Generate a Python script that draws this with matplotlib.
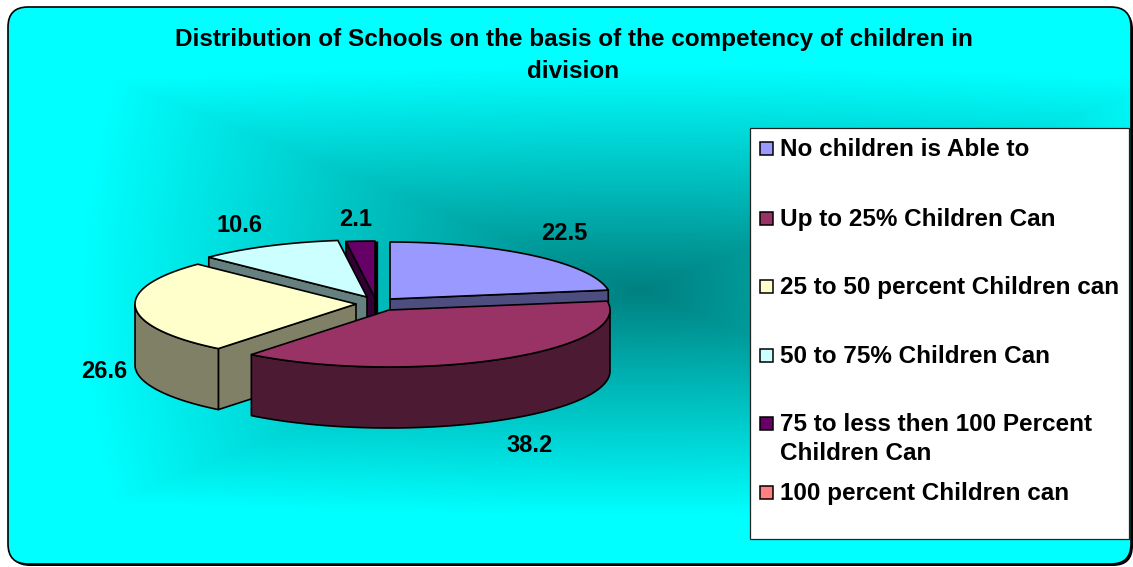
import numpy as np
import matplotlib
matplotlib.use("Agg")
import matplotlib.pyplot as plt
from matplotlib.patches import FancyBboxPatch, Polygon, Rectangle

plt.rcParams['font.family'] = ['Liberation Sans', 'DejaVu Sans']

title = "Distribution of Schools on the basis of the competency of children in\ndivision"
categories = ["No children is Able to", "Up to 25% Children Can", "25 to 50 percent Children can",
              "50 to 75% Children Can", "75 to less then 100 Percent\nChildren Can", "100 percent Children can"]
values = [22.5, 38.2, 26.6, 10.6, 2.1, 0.0]
value_labels = ["22.5", "38.2", "26.6", "10.6", "2.1", ""]

top_colors = ["#9999FF", "#993366", "#FFFFCC", "#CCFFFF", "#660066", "#FF8080"]
side_colors = ["#4D4D80", "#4D1A33", "#808066", "#668080", "#330033", "#804040"]

# layout (pixels)
apex = [(390, 299), (389, 310), (356, 304), (367, 297), (375, 298), (375, 298)]
label_pos = [(564, 234), (530, 446), (104, 371), (240, 226), (356, 219)]
legend_y = [148, 218, 286, 355, 423, 492]
RX, RY, DEPTH = 221.0, 57.0, 61.0
LW = 1.2
BOX = (8, 7, 1123, 557)
STYLE = "round,pad=0,rounding_size=20"

fig = plt.figure(figsize=(11.33, 5.67), dpi=100)
ax = fig.add_axes([0, 0, 1, 1])

# frame + background
ax.add_patch(FancyBboxPatch((BOX[0] + 2, BOX[1] + 2), BOX[2], BOX[3], boxstyle=STYLE, fc="black", ec="black",
                            lw=0, zorder=0))
xx, yy = np.meshgrid(np.arange(0, 1133), np.arange(0, 567))
dx = np.abs(xx - 640) / 560.0
dy = np.abs(yy - 290) / 225.0
d = np.clip(0.85 * np.maximum(dx, dy) + 0.15 * np.hypot(dx, dy), 0, 1)
g = 128 + (255 - 128) * d
img = np.dstack([np.zeros_like(g), g, g]).astype(np.uint8)
im = ax.imshow(img, extent=(0, 1133, 567, 0), zorder=1.5, aspect="auto", interpolation="bilinear")
im.set_clip_path(FancyBboxPatch(BOX[:2], BOX[2], BOX[3], boxstyle=STYLE, transform=ax.transData))
ax.add_patch(FancyBboxPatch(BOX[:2], BOX[2], BOX[3], boxstyle=STYLE, fc="none", ec="black", lw=1.2, zorder=1.6))
ax.set_xlim(0, 1133)
ax.set_ylim(567, 0)
ax.axis("off")

ax.text(573.5, 55.5, title, ha="center", va="center", fontsize=17.5, fontweight="bold",
        color="black", linespacing=1.55, zorder=5)


def rim(cx, cy, a0, a1):
    t = np.radians(np.linspace(a0, a1, max(int(abs(a1 - a0)) + 2, 3)))
    return np.column_stack([cx + RX * np.sin(t), cy - RY * np.cos(t)])


def face(pts, color, z):
    ax.add_patch(Polygon(pts, closed=True, fc=color, ec="black", lw=LW, joinstyle="round", zorder=z))


edges = np.concatenate([[0], np.cumsum(values)]) * 3.6
down = np.array([0, DEPTH])
z = 2.0
for i in [0, 4, 3, 2, 1]:
    a0, a1 = edges[i], edges[i + 1]
    cx, cy = apex[i]
    arc = rim(cx, cy, a0, a1)
    # flat cut faces, only those turned toward the viewer
    if np.sin(np.radians(a0)) < -1e-6:
        z += 0.01
        face([(cx, cy), arc[0], arc[0] + down, (cx, cy + DEPTH)], side_colors[i], z)
    if np.sin(np.radians(a1)) > 1e-6:
        z += 0.01
        face([(cx, cy), arc[-1], arc[-1] + down, (cx, cy + DEPTH)], side_colors[i], z)
    # outer wall: only the part of the rim that faces the viewer
    w0, w1 = max(a0, 90), min(a1, 270)
    if w1 > w0:
        wall = rim(cx, cy, w0, w1)
        z += 0.01
        face(np.vstack([wall, (wall + down)[::-1]]), side_colors[i], z)
    # top
    z += 0.01
    face(np.vstack([[(cx, cy)], arc]), top_colors[i], z)
    if i == 4:
        z += 0.01
        ax.plot([arc[-1][0] + 1.5] * 2, [cy - RY, cy + 16], color="black", lw=2.4, zorder=z,
                solid_capstyle="butt")

for (x, y), s in zip(label_pos, value_labels):
    ax.text(x, y, s, ha="center", va="center", fontsize=17, fontweight="bold", color="black", zorder=6)

# legend
ax.add_patch(Rectangle((750, 128), 379, 411, fc="white", ec="#222222", lw=0.9, zorder=7))
for y, c, s in zip(legend_y, top_colors, categories):
    ax.add_patch(Rectangle((760, y - 6.5), 13, 13, fc=c, ec="black", lw=1.1, zorder=8))
    for n, line in enumerate(s.split("\n")):
        ax.text(780, y + 8 + n * 29, line, ha="left", va="baseline", fontsize=17.5, fontweight="bold",
                color="black", zorder=8)

fig.savefig("out.png", dpi=100, facecolor="white")
